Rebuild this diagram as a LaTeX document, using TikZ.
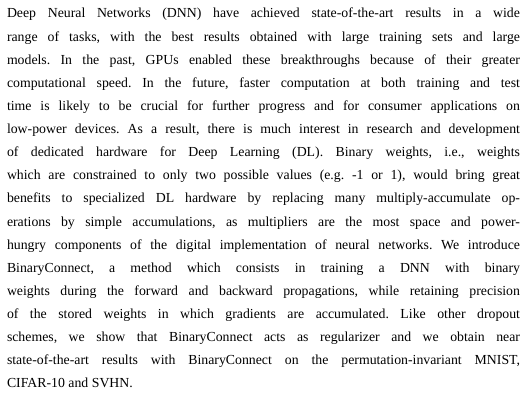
\documentclass[tikz,border=0pt]{standalone}
\usepackage{fontspec}
\setmainfont{Liberation Serif}
\begin{document}
\begin{tikzpicture}[x=1pt,y=1pt]
\useasboundingbox (0,0) rectangle (525,405);
\tikzset{para/.style={anchor=base west,inner sep=0pt,outer sep=0pt,text width=513pt,align=justify,
  font=\fontsize{13.8}{23.12}\selectfont}}
\node[para] (p) at (7,387) {\frenchspacing\hyphenpenalty=10000\exhyphenpenalty=10000\tolerance=10000\pretolerance=-1\hbadness=10000\hfuzz=20pt
Deep Neural Networks (DNN) have achieved state-of-the-art results in a wide\linebreak
range of tasks, with the best results obtained with large training sets and large\linebreak
models. In the past, GPUs enabled these breakthroughs because of their greater\linebreak
computational speed. In the future, faster computation at both training and test\linebreak
time is likely to be crucial for further progress and for consumer applications on\linebreak
low-power devices. As a result, there is much interest in research and development\linebreak
of dedicated hardware for Deep Learning (DL). Binary weights, i.e., weights\linebreak
which are constrained to only two possible values (e.g. -1 or 1), would bring great\linebreak
benefits to specialized DL hardware by replacing many multiply-accumulate op-\linebreak
erations by simple accumulations, as multipliers are the most space and power-\linebreak
hungry components of the digital implementation of neural networks. We introduce\linebreak
BinaryConnect, a method which consists in training a DNN with binary\linebreak
weights during the forward and backward propagations, while retaining precision\linebreak
of the stored weights in which gradients are accumulated. Like other dropout\linebreak
schemes, we show that BinaryConnect acts as regularizer and we obtain near\linebreak
state-of-the-art results with BinaryConnect on the permutation-invariant MNIST,\linebreak
CIFAR-10 and SVHN.};
\end{tikzpicture}
\end{document}
